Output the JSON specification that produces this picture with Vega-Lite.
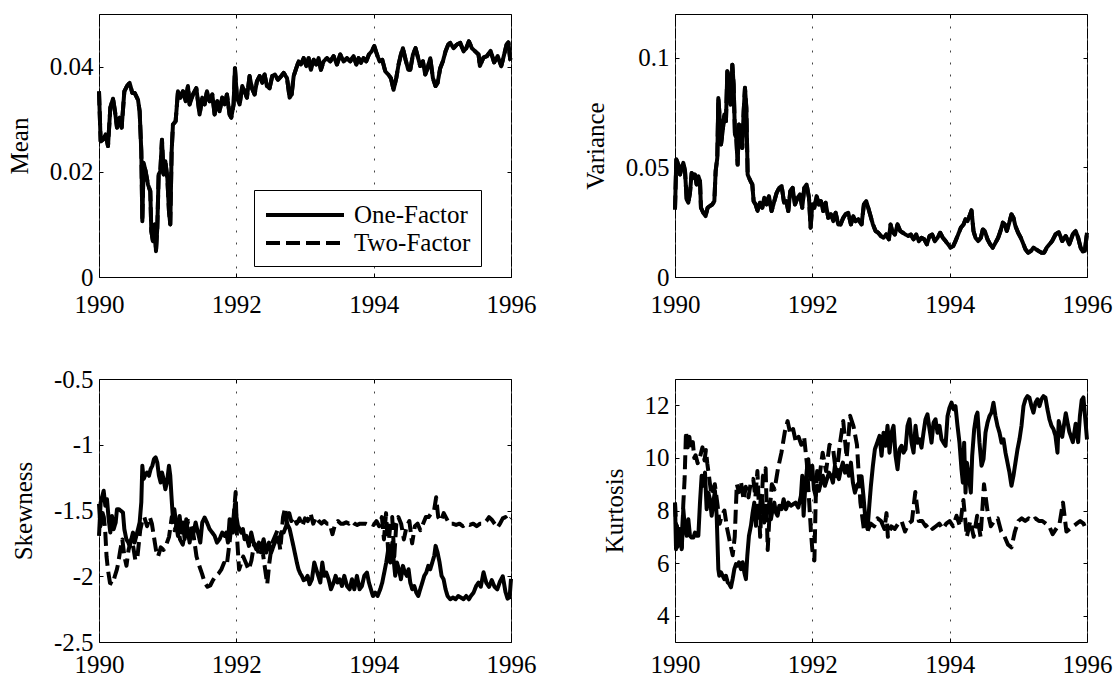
{
"$schema":"https://vega.github.io/schema/vega-lite/v6.json",
"padding":{"left":6,"top":13,"right":0,"bottom":0},
"bounds":"flush",
"columns":2,
"spacing":{"row":102,"column":164},
"resolve":{"scale":{"strokeDash":"independent"}},
"config":{
 "view":{"stroke":"black","strokeWidth":1},
 "font":"Liberation Serif",
 "axis":{"labelFont":"Liberation Serif","labelFontSize":25,"labelColor":"black","titleFont":"Liberation Serif","titleFontSize":25,"titleFontWeight":"normal","titleColor":"black","domain":false,"tickColor":"black","tickSize":-4,"tickWidth":1,"labelFlush":false,"labelOverlap":false,"grid":false}
},
"datasets":{
"mean":[{"t":1990.000,"v":0.0353},{"t":1990.024,"v":0.0258},{"t":1990.058,"v":0.0261},{"t":1990.097,"v":0.0271},{"t":1990.131,"v":0.0249},{"t":1990.165,"v":0.0322},{"t":1990.204,"v":0.0339},{"t":1990.233,"v":0.0315},{"t":1990.262,"v":0.0284},{"t":1990.301,"v":0.0303},{"t":1990.330,"v":0.0284},{"t":1990.369,"v":0.0353},{"t":1990.408,"v":0.0363},{"t":1990.446,"v":0.0369},{"t":1990.485,"v":0.0350},{"t":1990.519,"v":0.0350},{"t":1990.568,"v":0.0337},{"t":1990.592,"v":0.0315},{"t":1990.616,"v":0.0239},{"t":1990.631,"v":0.0106},{"t":1990.650,"v":0.0217},{"t":1990.679,"v":0.0201},{"t":1990.713,"v":0.0176},{"t":1990.747,"v":0.0163},{"t":1990.762,"v":0.0087},{"t":1990.786,"v":0.0068},{"t":1990.810,"v":0.0100},{"t":1990.830,"v":0.0049},{"t":1990.849,"v":0.0094},{"t":1990.869,"v":0.0195},{"t":1990.893,"v":0.0201},{"t":1990.917,"v":0.0261},{"t":1990.941,"v":0.0195},{"t":1990.966,"v":0.0220},{"t":1990.995,"v":0.0189},{"t":1991.019,"v":0.0125},{"t":1991.038,"v":0.0100},{"t":1991.058,"v":0.0239},{"t":1991.077,"v":0.0290},{"t":1991.116,"v":0.0296},{"t":1991.150,"v":0.0353},{"t":1991.184,"v":0.0341},{"t":1991.223,"v":0.0353},{"t":1991.262,"v":0.0334},{"t":1991.295,"v":0.0363},{"t":1991.320,"v":0.0328},{"t":1991.368,"v":0.0347},{"t":1991.417,"v":0.0359},{"t":1991.465,"v":0.0309},{"t":1991.504,"v":0.0341},{"t":1991.538,"v":0.0328},{"t":1991.572,"v":0.0353},{"t":1991.611,"v":0.0334},{"t":1991.650,"v":0.0347},{"t":1991.684,"v":0.0309},{"t":1991.722,"v":0.0334},{"t":1991.756,"v":0.0315},{"t":1991.795,"v":0.0341},{"t":1991.829,"v":0.0328},{"t":1991.863,"v":0.0347},{"t":1991.902,"v":0.0309},{"t":1991.926,"v":0.0303},{"t":1991.960,"v":0.0328},{"t":1991.980,"v":0.0397},{"t":1992.009,"v":0.0341},{"t":1992.048,"v":0.0328},{"t":1992.086,"v":0.0363},{"t":1992.120,"v":0.0353},{"t":1992.154,"v":0.0341},{"t":1992.193,"v":0.0382},{"t":1992.227,"v":0.0359},{"t":1992.266,"v":0.0347},{"t":1992.300,"v":0.0372},{"t":1992.339,"v":0.0382},{"t":1992.377,"v":0.0369},{"t":1992.411,"v":0.0385},{"t":1992.445,"v":0.0363},{"t":1992.484,"v":0.0359},{"t":1992.523,"v":0.0382},{"t":1992.562,"v":0.0385},{"t":1992.606,"v":0.0375},{"t":1992.654,"v":0.0382},{"t":1992.689,"v":0.0388},{"t":1992.738,"v":0.0378},{"t":1992.776,"v":0.0341},{"t":1992.805,"v":0.0347},{"t":1992.835,"v":0.0382},{"t":1992.873,"v":0.0397},{"t":1992.907,"v":0.0410},{"t":1992.941,"v":0.0404},{"t":1992.980,"v":0.0416},{"t":1993.019,"v":0.0401},{"t":1993.053,"v":0.0416},{"t":1993.087,"v":0.0394},{"t":1993.126,"v":0.0413},{"t":1993.164,"v":0.0404},{"t":1993.198,"v":0.0416},{"t":1993.232,"v":0.0394},{"t":1993.271,"v":0.0410},{"t":1993.320,"v":0.0416},{"t":1993.368,"v":0.0410},{"t":1993.417,"v":0.0420},{"t":1993.465,"v":0.0404},{"t":1993.514,"v":0.0423},{"t":1993.562,"v":0.0410},{"t":1993.611,"v":0.0416},{"t":1993.659,"v":0.0410},{"t":1993.708,"v":0.0420},{"t":1993.747,"v":0.0404},{"t":1993.781,"v":0.0416},{"t":1993.815,"v":0.0407},{"t":1993.853,"v":0.0416},{"t":1993.892,"v":0.0410},{"t":1993.931,"v":0.0423},{"t":1993.970,"v":0.0429},{"t":1994.009,"v":0.0439},{"t":1994.048,"v":0.0423},{"t":1994.086,"v":0.0410},{"t":1994.125,"v":0.0413},{"t":1994.169,"v":0.0391},{"t":1994.213,"v":0.0385},{"t":1994.251,"v":0.0378},{"t":1994.290,"v":0.0356},{"t":1994.329,"v":0.0378},{"t":1994.363,"v":0.0404},{"t":1994.397,"v":0.0423},{"t":1994.426,"v":0.0435},{"t":1994.465,"v":0.0413},{"t":1994.504,"v":0.0394},{"t":1994.533,"v":0.0394},{"t":1994.572,"v":0.0423},{"t":1994.610,"v":0.0435},{"t":1994.640,"v":0.0420},{"t":1994.678,"v":0.0401},{"t":1994.717,"v":0.0410},{"t":1994.751,"v":0.0385},{"t":1994.785,"v":0.0397},{"t":1994.824,"v":0.0416},{"t":1994.863,"v":0.0378},{"t":1994.901,"v":0.0363},{"t":1994.931,"v":0.0369},{"t":1994.969,"v":0.0397},{"t":1995.008,"v":0.0410},{"t":1995.047,"v":0.0429},{"t":1995.086,"v":0.0442},{"t":1995.115,"v":0.0445},{"t":1995.163,"v":0.0435},{"t":1995.212,"v":0.0442},{"t":1995.261,"v":0.0445},{"t":1995.309,"v":0.0429},{"t":1995.348,"v":0.0435},{"t":1995.387,"v":0.0448},{"t":1995.430,"v":0.0435},{"t":1995.479,"v":0.0429},{"t":1995.527,"v":0.0423},{"t":1995.547,"v":0.0401},{"t":1995.598,"v":0.0417},{"t":1995.650,"v":0.0420},{"t":1995.703,"v":0.0430},{"t":1995.754,"v":0.0408},{"t":1995.806,"v":0.0420},{"t":1995.858,"v":0.0401},{"t":1995.895,"v":0.0420},{"t":1995.936,"v":0.0442},{"t":1995.962,"v":0.0446},{"t":1995.988,"v":0.0414},{"t":1996.000,"v":0.0412}],
"var":[{"t":1990.000,"v":0.0308},{"t":1990.019,"v":0.0536},{"t":1990.049,"v":0.0513},{"t":1990.073,"v":0.0468},{"t":1990.097,"v":0.0498},{"t":1990.121,"v":0.0521},{"t":1990.146,"v":0.0483},{"t":1990.170,"v":0.0354},{"t":1990.194,"v":0.0339},{"t":1990.218,"v":0.0384},{"t":1990.243,"v":0.0475},{"t":1990.267,"v":0.0453},{"t":1990.291,"v":0.0468},{"t":1990.315,"v":0.0422},{"t":1990.340,"v":0.0460},{"t":1990.364,"v":0.0437},{"t":1990.378,"v":0.0316},{"t":1990.412,"v":0.0293},{"t":1990.446,"v":0.0278},{"t":1990.475,"v":0.0316},{"t":1990.509,"v":0.0324},{"t":1990.543,"v":0.0331},{"t":1990.573,"v":0.0346},{"t":1990.592,"v":0.0483},{"t":1990.616,"v":0.0544},{"t":1990.631,"v":0.0817},{"t":1990.645,"v":0.0756},{"t":1990.670,"v":0.0605},{"t":1990.694,"v":0.0665},{"t":1990.718,"v":0.0741},{"t":1990.742,"v":0.0711},{"t":1990.762,"v":0.0939},{"t":1990.786,"v":0.0908},{"t":1990.810,"v":0.0787},{"t":1990.835,"v":0.0969},{"t":1990.854,"v":0.0878},{"t":1990.873,"v":0.0650},{"t":1990.893,"v":0.0635},{"t":1990.912,"v":0.0513},{"t":1990.932,"v":0.0696},{"t":1990.956,"v":0.0650},{"t":1990.980,"v":0.0589},{"t":1991.000,"v":0.0756},{"t":1991.019,"v":0.0863},{"t":1991.039,"v":0.0772},{"t":1991.058,"v":0.0468},{"t":1991.077,"v":0.0453},{"t":1991.101,"v":0.0437},{"t":1991.126,"v":0.0422},{"t":1991.145,"v":0.0346},{"t":1991.174,"v":0.0331},{"t":1991.203,"v":0.0301},{"t":1991.237,"v":0.0339},{"t":1991.271,"v":0.0316},{"t":1991.300,"v":0.0362},{"t":1991.334,"v":0.0331},{"t":1991.368,"v":0.0369},{"t":1991.407,"v":0.0301},{"t":1991.446,"v":0.0346},{"t":1991.480,"v":0.0384},{"t":1991.519,"v":0.0407},{"t":1991.553,"v":0.0415},{"t":1991.588,"v":0.0339},{"t":1991.621,"v":0.0346},{"t":1991.650,"v":0.0301},{"t":1991.679,"v":0.0392},{"t":1991.713,"v":0.0407},{"t":1991.747,"v":0.0331},{"t":1991.786,"v":0.0362},{"t":1991.820,"v":0.0377},{"t":1991.853,"v":0.0316},{"t":1991.883,"v":0.0407},{"t":1991.917,"v":0.0422},{"t":1991.951,"v":0.0362},{"t":1991.975,"v":0.0225},{"t":1991.999,"v":0.0331},{"t":1992.028,"v":0.0316},{"t":1992.062,"v":0.0369},{"t":1992.096,"v":0.0331},{"t":1992.125,"v":0.0346},{"t":1992.159,"v":0.0301},{"t":1992.193,"v":0.0339},{"t":1992.232,"v":0.0270},{"t":1992.271,"v":0.0286},{"t":1992.305,"v":0.0255},{"t":1992.339,"v":0.0293},{"t":1992.377,"v":0.0240},{"t":1992.411,"v":0.0240},{"t":1992.450,"v":0.0270},{"t":1992.484,"v":0.0286},{"t":1992.523,"v":0.0293},{"t":1992.562,"v":0.0240},{"t":1992.596,"v":0.0278},{"t":1992.630,"v":0.0255},{"t":1992.669,"v":0.0263},{"t":1992.717,"v":0.0240},{"t":1992.751,"v":0.0331},{"t":1992.785,"v":0.0346},{"t":1992.814,"v":0.0316},{"t":1992.848,"v":0.0278},{"t":1992.882,"v":0.0240},{"t":1992.921,"v":0.0210},{"t":1992.959,"v":0.0202},{"t":1992.998,"v":0.0187},{"t":1993.037,"v":0.0179},{"t":1993.076,"v":0.0194},{"t":1993.115,"v":0.0172},{"t":1993.139,"v":0.0240},{"t":1993.163,"v":0.0210},{"t":1993.202,"v":0.0194},{"t":1993.241,"v":0.0240},{"t":1993.280,"v":0.0210},{"t":1993.318,"v":0.0202},{"t":1993.357,"v":0.0194},{"t":1993.396,"v":0.0187},{"t":1993.435,"v":0.0194},{"t":1993.474,"v":0.0172},{"t":1993.513,"v":0.0194},{"t":1993.551,"v":0.0164},{"t":1993.590,"v":0.0179},{"t":1993.629,"v":0.0172},{"t":1993.668,"v":0.0149},{"t":1993.707,"v":0.0187},{"t":1993.745,"v":0.0194},{"t":1993.784,"v":0.0164},{"t":1993.823,"v":0.0179},{"t":1993.862,"v":0.0202},{"t":1993.901,"v":0.0179},{"t":1993.940,"v":0.0164},{"t":1993.978,"v":0.0149},{"t":1994.012,"v":0.0134},{"t":1994.051,"v":0.0141},{"t":1994.085,"v":0.0164},{"t":1994.124,"v":0.0194},{"t":1994.163,"v":0.0225},{"t":1994.202,"v":0.0240},{"t":1994.231,"v":0.0263},{"t":1994.260,"v":0.0255},{"t":1994.289,"v":0.0278},{"t":1994.318,"v":0.0304},{"t":1994.347,"v":0.0210},{"t":1994.376,"v":0.0179},{"t":1994.415,"v":0.0164},{"t":1994.454,"v":0.0179},{"t":1994.483,"v":0.0217},{"t":1994.512,"v":0.0210},{"t":1994.551,"v":0.0172},{"t":1994.590,"v":0.0149},{"t":1994.628,"v":0.0134},{"t":1994.667,"v":0.0156},{"t":1994.706,"v":0.0179},{"t":1994.740,"v":0.0210},{"t":1994.774,"v":0.0248},{"t":1994.803,"v":0.0240},{"t":1994.832,"v":0.0210},{"t":1994.861,"v":0.0240},{"t":1994.900,"v":0.0286},{"t":1994.929,"v":0.0270},{"t":1994.958,"v":0.0232},{"t":1994.997,"v":0.0202},{"t":1995.036,"v":0.0179},{"t":1995.075,"v":0.0149},{"t":1995.104,"v":0.0126},{"t":1995.143,"v":0.0111},{"t":1995.182,"v":0.0118},{"t":1995.220,"v":0.0134},{"t":1995.259,"v":0.0126},{"t":1995.298,"v":0.0118},{"t":1995.337,"v":0.0111},{"t":1995.376,"v":0.0111},{"t":1995.414,"v":0.0134},{"t":1995.453,"v":0.0149},{"t":1995.492,"v":0.0164},{"t":1995.541,"v":0.0194},{"t":1995.589,"v":0.0205},{"t":1995.639,"v":0.0164},{"t":1995.691,"v":0.0187},{"t":1995.742,"v":0.0149},{"t":1995.794,"v":0.0195},{"t":1995.835,"v":0.0210},{"t":1995.871,"v":0.0179},{"t":1995.907,"v":0.0134},{"t":1995.938,"v":0.0116},{"t":1995.969,"v":0.0119},{"t":1996.000,"v":0.0202}],
"sk1":[{"t":1990.000,"v":-1.693},{"t":1990.024,"v":-1.439},{"t":1990.049,"v":-1.388},{"t":1990.068,"v":-1.350},{"t":1990.092,"v":-1.464},{"t":1990.116,"v":-1.414},{"t":1990.141,"v":-1.566},{"t":1990.165,"v":-1.668},{"t":1990.189,"v":-1.541},{"t":1990.213,"v":-1.642},{"t":1990.243,"v":-1.591},{"t":1990.262,"v":-1.490},{"t":1990.291,"v":-1.490},{"t":1990.320,"v":-1.503},{"t":1990.349,"v":-1.515},{"t":1990.369,"v":-1.642},{"t":1990.398,"v":-1.718},{"t":1990.427,"v":-1.744},{"t":1990.446,"v":-1.769},{"t":1990.471,"v":-1.718},{"t":1990.495,"v":-1.668},{"t":1990.519,"v":-1.744},{"t":1990.543,"v":-1.693},{"t":1990.568,"v":-1.642},{"t":1990.592,"v":-1.591},{"t":1990.616,"v":-1.439},{"t":1990.631,"v":-1.160},{"t":1990.650,"v":-1.261},{"t":1990.670,"v":-1.236},{"t":1990.699,"v":-1.211},{"t":1990.728,"v":-1.236},{"t":1990.752,"v":-1.185},{"t":1990.776,"v":-1.160},{"t":1990.801,"v":-1.109},{"t":1990.825,"v":-1.096},{"t":1990.849,"v":-1.135},{"t":1990.873,"v":-1.236},{"t":1990.898,"v":-1.287},{"t":1990.917,"v":-1.211},{"t":1990.941,"v":-1.261},{"t":1990.966,"v":-1.338},{"t":1990.990,"v":-1.287},{"t":1991.019,"v":-1.160},{"t":1991.038,"v":-1.236},{"t":1991.058,"v":-1.414},{"t":1991.077,"v":-1.566},{"t":1991.097,"v":-1.490},{"t":1991.126,"v":-1.617},{"t":1991.150,"v":-1.693},{"t":1991.174,"v":-1.541},{"t":1991.198,"v":-1.668},{"t":1991.223,"v":-1.591},{"t":1991.247,"v":-1.718},{"t":1991.271,"v":-1.566},{"t":1991.295,"v":-1.668},{"t":1991.320,"v":-1.744},{"t":1991.344,"v":-1.642},{"t":1991.368,"v":-1.693},{"t":1991.407,"v":-1.591},{"t":1991.441,"v":-1.668},{"t":1991.475,"v":-1.744},{"t":1991.504,"v":-1.591},{"t":1991.538,"v":-1.553},{"t":1991.572,"v":-1.591},{"t":1991.611,"v":-1.642},{"t":1991.650,"v":-1.668},{"t":1991.684,"v":-1.693},{"t":1991.718,"v":-1.744},{"t":1991.756,"v":-1.718},{"t":1991.795,"v":-1.668},{"t":1991.829,"v":-1.693},{"t":1991.853,"v":-1.668},{"t":1991.878,"v":-1.744},{"t":1991.902,"v":-1.566},{"t":1991.926,"v":-1.591},{"t":1991.951,"v":-1.668},{"t":1991.980,"v":-1.450},{"t":1992.000,"v":-1.541},{"t":1992.023,"v":-1.617},{"t":1992.048,"v":-1.642},{"t":1992.072,"v":-1.668},{"t":1992.096,"v":-1.642},{"t":1992.120,"v":-1.718},{"t":1992.145,"v":-1.693},{"t":1992.183,"v":-1.769},{"t":1992.217,"v":-1.668},{"t":1992.251,"v":-1.744},{"t":1992.290,"v":-1.794},{"t":1992.329,"v":-1.744},{"t":1992.363,"v":-1.794},{"t":1992.397,"v":-1.718},{"t":1992.436,"v":-1.820},{"t":1992.475,"v":-1.744},{"t":1992.508,"v":-1.820},{"t":1992.542,"v":-1.769},{"t":1992.581,"v":-1.718},{"t":1992.620,"v":-1.744},{"t":1992.654,"v":-1.668},{"t":1992.689,"v":-1.668},{"t":1992.738,"v":-1.600},{"t":1992.776,"v":-1.640},{"t":1992.810,"v":-1.720},{"t":1992.835,"v":-1.780},{"t":1992.859,"v":-1.840},{"t":1992.883,"v":-1.900},{"t":1992.907,"v":-1.950},{"t":1992.932,"v":-1.980},{"t":1992.956,"v":-2.000},{"t":1992.980,"v":-2.030},{"t":1993.009,"v":-2.023},{"t":1993.038,"v":-1.997},{"t":1993.067,"v":-2.061},{"t":1993.101,"v":-2.023},{"t":1993.135,"v":-1.896},{"t":1993.164,"v":-1.947},{"t":1993.194,"v":-1.997},{"t":1993.223,"v":-2.048},{"t":1993.252,"v":-1.896},{"t":1993.281,"v":-1.997},{"t":1993.310,"v":-1.972},{"t":1993.344,"v":-2.023},{"t":1993.378,"v":-2.099},{"t":1993.417,"v":-2.048},{"t":1993.446,"v":-1.997},{"t":1993.475,"v":-2.048},{"t":1993.504,"v":-2.023},{"t":1993.538,"v":-2.074},{"t":1993.572,"v":-1.997},{"t":1993.611,"v":-2.074},{"t":1993.650,"v":-2.099},{"t":1993.684,"v":-2.023},{"t":1993.718,"v":-2.099},{"t":1993.756,"v":-1.997},{"t":1993.795,"v":-2.099},{"t":1993.829,"v":-2.074},{"t":1993.863,"v":-1.997},{"t":1993.902,"v":-1.972},{"t":1993.931,"v":-2.048},{"t":1993.960,"v":-2.099},{"t":1993.989,"v":-2.150},{"t":1994.023,"v":-2.124},{"t":1994.057,"v":-2.150},{"t":1994.096,"v":-2.099},{"t":1994.125,"v":-2.048},{"t":1994.154,"v":-1.972},{"t":1994.183,"v":-1.896},{"t":1994.213,"v":-1.794},{"t":1994.242,"v":-1.896},{"t":1994.271,"v":-1.744},{"t":1994.290,"v":-1.871},{"t":1994.314,"v":-1.997},{"t":1994.339,"v":-1.896},{"t":1994.368,"v":-1.947},{"t":1994.397,"v":-2.023},{"t":1994.426,"v":-1.921},{"t":1994.455,"v":-1.972},{"t":1994.484,"v":-1.997},{"t":1994.508,"v":-1.947},{"t":1994.533,"v":-2.048},{"t":1994.562,"v":-2.099},{"t":1994.591,"v":-2.074},{"t":1994.620,"v":-2.124},{"t":1994.649,"v":-2.150},{"t":1994.678,"v":-2.099},{"t":1994.708,"v":-2.048},{"t":1994.737,"v":-1.997},{"t":1994.766,"v":-1.972},{"t":1994.795,"v":-1.921},{"t":1994.824,"v":-1.947},{"t":1994.853,"v":-1.896},{"t":1994.882,"v":-1.845},{"t":1994.902,"v":-1.769},{"t":1994.931,"v":-1.820},{"t":1994.960,"v":-1.896},{"t":1994.989,"v":-1.997},{"t":1995.018,"v":-2.023},{"t":1995.047,"v":-2.099},{"t":1995.076,"v":-2.150},{"t":1995.115,"v":-2.175},{"t":1995.154,"v":-2.162},{"t":1995.193,"v":-2.175},{"t":1995.231,"v":-2.150},{"t":1995.270,"v":-2.162},{"t":1995.309,"v":-2.175},{"t":1995.348,"v":-2.150},{"t":1995.387,"v":-2.175},{"t":1995.416,"v":-2.150},{"t":1995.455,"v":-2.124},{"t":1995.493,"v":-2.074},{"t":1995.527,"v":-2.048},{"t":1995.560,"v":-2.080},{"t":1995.600,"v":-1.970},{"t":1995.640,"v":-2.050},{"t":1995.680,"v":-2.080},{"t":1995.720,"v":-2.030},{"t":1995.760,"v":-2.080},{"t":1995.800,"v":-2.100},{"t":1995.840,"v":-2.040},{"t":1995.880,"v":-2.000},{"t":1995.920,"v":-2.120},{"t":1995.950,"v":-2.170},{"t":1995.980,"v":-2.160},{"t":1996.000,"v":-2.020}],
"sk2":[{"t":1990.00,"v":-1.45},{"t":1990.02,"v":-1.62},{"t":1990.04,"v":-1.5},{"t":1990.07,"v":-1.55},{"t":1990.09,"v":-1.65},{"t":1990.11,"v":-1.85},{"t":1990.13,"v":-1.95},{"t":1990.16,"v":-2.05},{"t":1990.2,"v":-2.06},{"t":1990.23,"v":-2.0},{"t":1990.26,"v":-1.95},{"t":1990.28,"v":-1.9},{"t":1990.31,"v":-1.8},{"t":1990.34,"v":-1.72},{"t":1990.37,"v":-1.85},{"t":1990.4,"v":-1.92},{"t":1990.43,"v":-1.8},{"t":1990.47,"v":-1.72},{"t":1990.5,"v":-1.78},{"t":1990.53,"v":-1.88},{"t":1990.56,"v":-1.85},{"t":1990.6,"v":-1.65},{"t":1990.63,"v":-1.58},{"t":1990.66,"v":-1.55},{"t":1990.7,"v":-1.62},{"t":1990.74,"v":-1.55},{"t":1990.77,"v":-1.6},{"t":1990.8,"v":-1.7},{"t":1990.83,"v":-1.8},{"t":1990.86,"v":-1.85},{"t":1990.9,"v":-1.78},{"t":1990.94,"v":-1.8},{"t":1990.98,"v":-1.76},{"t":1991.02,"v":-1.7},{"t":1991.06,"v":-1.55},{"t":1991.1,"v":-1.65},{"t":1991.14,"v":-1.6},{"t":1991.18,"v":-1.72},{"t":1991.22,"v":-1.76},{"t":1991.26,"v":-1.65},{"t":1991.3,"v":-1.58},{"t":1991.34,"v":-1.62},{"t":1991.38,"v":-1.7},{"t":1991.42,"v":-1.85},{"t":1991.46,"v":-1.92},{"t":1991.5,"v":-1.98},{"t":1991.54,"v":-2.05},{"t":1991.58,"v":-2.08},{"t":1991.62,"v":-2.07},{"t":1991.66,"v":-2.03},{"t":1991.7,"v":-2.0},{"t":1991.74,"v":-1.98},{"t":1991.78,"v":-1.95},{"t":1991.82,"v":-1.9},{"t":1991.86,"v":-1.92},{"t":1991.9,"v":-1.75},{"t":1991.93,"v":-1.6},{"t":1991.96,"v":-1.55},{"t":1991.99,"v":-1.36},{"t":1992.01,"v":-1.7},{"t":1992.04,"v":-1.95},{"t":1992.07,"v":-1.9},{"t":1992.1,"v":-1.85},{"t":1992.14,"v":-1.9},{"t":1992.18,"v":-1.95},{"t":1992.22,"v":-1.88},{"t":1992.26,"v":-1.75},{"t":1992.3,"v":-1.78},{"t":1992.34,"v":-1.85},{"t":1992.38,"v":-1.8},{"t":1992.42,"v":-1.95},{"t":1992.45,"v":-2.06},{"t":1992.48,"v":-1.9},{"t":1992.52,"v":-1.75},{"t":1992.56,"v":-1.7},{"t":1992.6,"v":-1.65},{"t":1992.64,"v":-1.8},{"t":1992.68,"v":-1.55},{"t":1992.71,"v":-1.48},{"t":1992.74,"v":-1.6},{"t":1992.77,"v":-1.52},{"t":1992.8,"v":-1.58},{"t":1992.84,"v":-1.55},{"t":1992.88,"v":-1.6},{"t":1992.92,"v":-1.56},{"t":1992.96,"v":-1.62},{"t":1993.0,"v":-1.56},{"t":1993.04,"v":-1.58},{"t":1993.08,"v":-1.52},{"t":1993.12,"v":-1.6},{"t":1993.16,"v":-1.55},{"t":1993.2,"v":-1.58},{"t":1993.24,"v":-1.6},{"t":1993.28,"v":-1.58},{"t":1993.32,"v":-1.6},{"t":1993.36,"v":-1.6},{"t":1993.4,"v":-1.68},{"t":1993.44,"v":-1.6},{"t":1993.48,"v":-1.58},{"t":1993.52,"v":-1.6},{"t":1993.56,"v":-1.6},{"t":1993.6,"v":-1.59},{"t":1993.64,"v":-1.6},{"t":1993.68,"v":-1.58},{"t":1993.72,"v":-1.6},{"t":1993.76,"v":-1.61},{"t":1993.8,"v":-1.6},{"t":1993.84,"v":-1.6},{"t":1993.88,"v":-1.6},{"t":1993.92,"v":-1.61},{"t":1993.96,"v":-1.6},{"t":1994.0,"v":-1.61},{"t":1994.04,"v":-1.58},{"t":1994.08,"v":-1.62},{"t":1994.12,"v":-1.55},{"t":1994.15,"v":-1.72},{"t":1994.18,"v":-1.52},{"t":1994.21,"v":-1.8},{"t":1994.24,"v":-1.62},{"t":1994.27,"v":-1.55},{"t":1994.3,"v":-1.85},{"t":1994.33,"v":-1.6},{"t":1994.36,"v":-1.55},{"t":1994.4,"v":-1.6},{"t":1994.44,"v":-1.72},{"t":1994.48,"v":-1.62},{"t":1994.52,"v":-1.58},{"t":1994.56,"v":-1.75},{"t":1994.6,"v":-1.62},{"t":1994.64,"v":-1.6},{"t":1994.68,"v":-1.65},{"t":1994.72,"v":-1.6},{"t":1994.76,"v":-1.55},{"t":1994.8,"v":-1.55},{"t":1994.84,"v":-1.52},{"t":1994.88,"v":-1.5},{"t":1994.91,"v":-1.4},{"t":1994.94,"v":-1.55},{"t":1994.98,"v":-1.58},{"t":1995.02,"v":-1.52},{"t":1995.06,"v":-1.56},{"t":1995.1,"v":-1.6},{"t":1995.15,"v":-1.6},{"t":1995.2,"v":-1.61},{"t":1995.25,"v":-1.6},{"t":1995.3,"v":-1.62},{"t":1995.35,"v":-1.6},{"t":1995.4,"v":-1.61},{"t":1995.45,"v":-1.6},{"t":1995.5,"v":-1.62},{"t":1995.55,"v":-1.6},{"t":1995.6,"v":-1.6},{"t":1995.64,"v":-1.58},{"t":1995.68,"v":-1.55},{"t":1995.72,"v":-1.57},{"t":1995.76,"v":-1.6},{"t":1995.8,"v":-1.63},{"t":1995.84,"v":-1.6},{"t":1995.88,"v":-1.56},{"t":1995.92,"v":-1.55},{"t":1995.96,"v":-1.58},{"t":1996.0,"v":-1.56}],
"ku1":[{"t":1990.000,"v":8.30},{"t":1990.015,"v":6.53},{"t":1990.029,"v":7.42},{"t":1990.049,"v":6.66},{"t":1990.073,"v":7.29},{"t":1990.097,"v":6.53},{"t":1990.121,"v":8.05},{"t":1990.146,"v":7.29},{"t":1990.170,"v":7.04},{"t":1990.194,"v":7.67},{"t":1990.218,"v":7.04},{"t":1990.243,"v":6.97},{"t":1990.267,"v":6.97},{"t":1990.291,"v":7.16},{"t":1990.315,"v":7.04},{"t":1990.340,"v":7.04},{"t":1990.364,"v":8.30},{"t":1990.388,"v":9.32},{"t":1990.412,"v":8.94},{"t":1990.437,"v":9.44},{"t":1990.461,"v":8.05},{"t":1990.485,"v":8.68},{"t":1990.509,"v":8.43},{"t":1990.534,"v":7.80},{"t":1990.558,"v":8.30},{"t":1990.582,"v":8.75},{"t":1990.607,"v":7.80},{"t":1990.631,"v":5.77},{"t":1990.645,"v":5.52},{"t":1990.670,"v":5.65},{"t":1990.694,"v":5.52},{"t":1990.718,"v":5.39},{"t":1990.742,"v":5.52},{"t":1990.767,"v":5.27},{"t":1990.791,"v":5.20},{"t":1990.815,"v":5.08},{"t":1990.839,"v":5.39},{"t":1990.864,"v":5.77},{"t":1990.888,"v":5.96},{"t":1990.912,"v":5.90},{"t":1990.932,"v":6.03},{"t":1990.961,"v":5.77},{"t":1990.985,"v":6.03},{"t":1991.009,"v":5.65},{"t":1991.033,"v":5.39},{"t":1991.053,"v":6.28},{"t":1991.077,"v":7.04},{"t":1991.106,"v":7.42},{"t":1991.131,"v":7.92},{"t":1991.155,"v":8.30},{"t":1991.179,"v":7.42},{"t":1991.203,"v":8.18},{"t":1991.228,"v":7.80},{"t":1991.252,"v":8.56},{"t":1991.276,"v":8.30},{"t":1991.300,"v":7.54},{"t":1991.325,"v":8.18},{"t":1991.349,"v":7.92},{"t":1991.373,"v":8.30},{"t":1991.397,"v":7.67},{"t":1991.422,"v":8.05},{"t":1991.446,"v":8.30},{"t":1991.470,"v":7.92},{"t":1991.494,"v":7.80},{"t":1991.519,"v":8.18},{"t":1991.553,"v":8.05},{"t":1991.582,"v":8.43},{"t":1991.616,"v":8.05},{"t":1991.650,"v":8.30},{"t":1991.689,"v":8.18},{"t":1991.722,"v":8.24},{"t":1991.756,"v":8.30},{"t":1991.795,"v":8.11},{"t":1991.834,"v":8.56},{"t":1991.853,"v":9.32},{"t":1991.873,"v":7.80},{"t":1991.892,"v":8.68},{"t":1991.921,"v":9.57},{"t":1991.941,"v":9.95},{"t":1991.960,"v":9.32},{"t":1991.980,"v":9.19},{"t":1991.999,"v":9.70},{"t":1992.023,"v":8.81},{"t":1992.048,"v":8.56},{"t":1992.072,"v":8.94},{"t":1992.096,"v":8.75},{"t":1992.125,"v":9.06},{"t":1992.154,"v":9.32},{"t":1992.183,"v":8.94},{"t":1992.213,"v":9.19},{"t":1992.242,"v":9.44},{"t":1992.271,"v":9.32},{"t":1992.300,"v":9.06},{"t":1992.329,"v":9.70},{"t":1992.358,"v":9.44},{"t":1992.387,"v":9.19},{"t":1992.416,"v":9.57},{"t":1992.445,"v":9.82},{"t":1992.475,"v":9.44},{"t":1992.504,"v":9.70},{"t":1992.533,"v":9.32},{"t":1992.562,"v":9.82},{"t":1992.591,"v":9.06},{"t":1992.620,"v":8.68},{"t":1992.649,"v":8.94},{"t":1992.678,"v":9.06},{"t":1992.717,"v":9.30},{"t":1992.746,"v":8.50},{"t":1992.775,"v":7.60},{"t":1992.804,"v":7.30},{"t":1992.830,"v":8.20},{"t":1992.853,"v":8.94},{"t":1992.882,"v":9.70},{"t":1992.911,"v":10.33},{"t":1992.945,"v":10.58},{"t":1992.979,"v":10.84},{"t":1993.008,"v":10.08},{"t":1993.037,"v":10.96},{"t":1993.066,"v":10.46},{"t":1993.095,"v":11.22},{"t":1993.124,"v":10.20},{"t":1993.153,"v":10.96},{"t":1993.183,"v":11.22},{"t":1993.212,"v":10.08},{"t":1993.241,"v":9.57},{"t":1993.270,"v":10.33},{"t":1993.299,"v":10.46},{"t":1993.328,"v":10.20},{"t":1993.357,"v":10.33},{"t":1993.386,"v":11.22},{"t":1993.415,"v":11.47},{"t":1993.445,"v":10.58},{"t":1993.474,"v":10.20},{"t":1993.503,"v":11.22},{"t":1993.532,"v":10.58},{"t":1993.561,"v":10.71},{"t":1993.590,"v":10.39},{"t":1993.619,"v":10.96},{"t":1993.648,"v":11.47},{"t":1993.677,"v":11.66},{"t":1993.707,"v":11.09},{"t":1993.736,"v":10.58},{"t":1993.765,"v":11.34},{"t":1993.794,"v":11.47},{"t":1993.823,"v":10.96},{"t":1993.852,"v":11.22},{"t":1993.881,"v":10.71},{"t":1993.910,"v":10.58},{"t":1993.940,"v":10.46},{"t":1993.969,"v":11.59},{"t":1993.998,"v":11.91},{"t":1994.027,"v":12.10},{"t":1994.056,"v":11.85},{"t":1994.085,"v":11.97},{"t":1994.114,"v":11.22},{"t":1994.143,"v":10.58},{"t":1994.172,"v":9.57},{"t":1994.192,"v":9.06},{"t":1994.211,"v":10.58},{"t":1994.231,"v":8.68},{"t":1994.250,"v":9.82},{"t":1994.279,"v":9.32},{"t":1994.308,"v":8.68},{"t":1994.328,"v":10.08},{"t":1994.357,"v":11.09},{"t":1994.386,"v":11.59},{"t":1994.405,"v":11.72},{"t":1994.434,"v":10.58},{"t":1994.464,"v":9.70},{"t":1994.493,"v":9.95},{"t":1994.522,"v":10.96},{"t":1994.551,"v":11.34},{"t":1994.580,"v":11.59},{"t":1994.609,"v":11.72},{"t":1994.638,"v":12.10},{"t":1994.667,"v":11.59},{"t":1994.696,"v":11.22},{"t":1994.726,"v":10.96},{"t":1994.755,"v":10.58},{"t":1994.784,"v":10.71},{"t":1994.813,"v":10.20},{"t":1994.842,"v":9.82},{"t":1994.871,"v":9.44},{"t":1994.900,"v":8.94},{"t":1994.929,"v":9.32},{"t":1994.958,"v":9.82},{"t":1994.988,"v":10.33},{"t":1995.017,"v":10.71},{"t":1995.046,"v":11.22},{"t":1995.075,"v":11.97},{"t":1995.104,"v":12.23},{"t":1995.133,"v":12.35},{"t":1995.162,"v":12.29},{"t":1995.191,"v":11.97},{"t":1995.220,"v":11.72},{"t":1995.250,"v":12.10},{"t":1995.279,"v":12.23},{"t":1995.308,"v":11.97},{"t":1995.337,"v":12.23},{"t":1995.366,"v":12.35},{"t":1995.395,"v":12.29},{"t":1995.424,"v":11.85},{"t":1995.453,"v":11.47},{"t":1995.483,"v":11.22},{"t":1995.512,"v":11.09},{"t":1995.541,"v":10.84},{"t":1995.570,"v":10.20},{"t":1995.588,"v":11.40},{"t":1995.639,"v":10.80},{"t":1995.691,"v":11.70},{"t":1995.742,"v":11.00},{"t":1995.794,"v":10.60},{"t":1995.835,"v":11.30},{"t":1995.871,"v":10.60},{"t":1995.897,"v":11.60},{"t":1995.923,"v":12.20},{"t":1995.948,"v":12.30},{"t":1995.974,"v":11.50},{"t":1996.000,"v":10.70}],
"ku2":[{"t":1990.00,"v":8.3},{"t":1990.03,"v":6.6},{"t":1990.06,"v":7.3},{"t":1990.1,"v":6.6},{"t":1990.12,"v":8.2},{"t":1990.14,"v":9.2},{"t":1990.16,"v":11.0},{"t":1990.185,"v":10.4},{"t":1990.21,"v":10.8},{"t":1990.23,"v":10.3},{"t":1990.26,"v":10.6},{"t":1990.28,"v":10.0},{"t":1990.3,"v":10.1},{"t":1990.33,"v":9.8},{"t":1990.36,"v":10.0},{"t":1990.4,"v":10.4},{"t":1990.43,"v":9.9},{"t":1990.45,"v":10.3},{"t":1990.47,"v":9.8},{"t":1990.5,"v":9.2},{"t":1990.53,"v":8.6},{"t":1990.58,"v":9.0},{"t":1990.62,"v":8.2},{"t":1990.65,"v":7.5},{"t":1990.68,"v":7.8},{"t":1990.72,"v":8.0},{"t":1990.76,"v":7.3},{"t":1990.8,"v":6.8},{"t":1990.84,"v":6.3},{"t":1990.87,"v":7.0},{"t":1990.9,"v":9.0},{"t":1990.93,"v":8.7},{"t":1990.96,"v":9.1},{"t":1991.0,"v":8.4},{"t":1991.03,"v":8.9},{"t":1991.07,"v":8.5},{"t":1991.1,"v":9.0},{"t":1991.14,"v":9.2},{"t":1991.17,"v":8.5},{"t":1991.2,"v":9.5},{"t":1991.24,"v":7.0},{"t":1991.28,"v":9.3},{"t":1991.32,"v":9.6},{"t":1991.35,"v":6.5},{"t":1991.38,"v":8.0},{"t":1991.41,"v":9.0},{"t":1991.45,"v":8.8},{"t":1991.5,"v":9.6},{"t":1991.55,"v":10.2},{"t":1991.6,"v":11.0},{"t":1991.64,"v":11.4},{"t":1991.68,"v":10.9},{"t":1991.72,"v":11.1},{"t":1991.76,"v":10.6},{"t":1991.8,"v":10.8},{"t":1991.84,"v":10.5},{"t":1991.88,"v":10.8},{"t":1991.92,"v":9.8},{"t":1991.95,"v":8.5},{"t":1991.98,"v":7.2},{"t":1992.0,"v":6.5},{"t":1992.03,"v":6.1},{"t":1992.05,"v":8.5},{"t":1992.07,"v":9.5},{"t":1992.1,"v":9.2},{"t":1992.15,"v":10.2},{"t":1992.2,"v":9.5},{"t":1992.25,"v":10.5},{"t":1992.3,"v":10.4},{"t":1992.35,"v":9.3},{"t":1992.4,"v":10.5},{"t":1992.45,"v":11.4},{"t":1992.5,"v":10.0},{"t":1992.55,"v":11.6},{"t":1992.6,"v":11.2},{"t":1992.65,"v":10.5},{"t":1992.7,"v":8.3},{"t":1992.75,"v":7.3},{"t":1992.8,"v":7.2},{"t":1992.85,"v":7.5},{"t":1992.9,"v":7.4},{"t":1992.95,"v":7.7},{"t":1993.0,"v":7.6},{"t":1993.05,"v":7.3},{"t":1993.08,"v":7.9},{"t":1993.1,"v":7.0},{"t":1993.15,"v":7.4},{"t":1993.2,"v":7.3},{"t":1993.25,"v":7.5},{"t":1993.3,"v":7.6},{"t":1993.35,"v":7.2},{"t":1993.4,"v":7.5},{"t":1993.45,"v":7.6},{"t":1993.5,"v":8.7},{"t":1993.55,"v":7.6},{"t":1993.6,"v":7.6},{"t":1993.65,"v":7.4},{"t":1993.7,"v":7.5},{"t":1993.75,"v":7.3},{"t":1993.8,"v":7.4},{"t":1993.85,"v":7.5},{"t":1993.9,"v":7.3},{"t":1993.95,"v":7.5},{"t":1994.0,"v":7.6},{"t":1994.05,"v":7.4},{"t":1994.1,"v":7.8},{"t":1994.15,"v":7.4},{"t":1994.2,"v":8.4},{"t":1994.25,"v":7.0},{"t":1994.3,"v":7.6},{"t":1994.35,"v":7.0},{"t":1994.4,"v":7.8},{"t":1994.45,"v":7.0},{"t":1994.5,"v":9.0},{"t":1994.55,"v":8.0},{"t":1994.6,"v":7.4},{"t":1994.65,"v":7.6},{"t":1994.7,"v":7.7},{"t":1994.75,"v":7.2},{"t":1994.8,"v":7.0},{"t":1994.85,"v":6.7},{"t":1994.9,"v":6.6},{"t":1994.95,"v":7.2},{"t":1995.0,"v":7.6},{"t":1995.05,"v":7.7},{"t":1995.1,"v":7.6},{"t":1995.15,"v":7.7},{"t":1995.2,"v":7.6},{"t":1995.25,"v":7.7},{"t":1995.3,"v":7.6},{"t":1995.35,"v":7.6},{"t":1995.4,"v":7.5},{"t":1995.45,"v":7.4},{"t":1995.5,"v":7.1},{"t":1995.55,"v":7.3},{"t":1995.6,"v":7.5},{"t":1995.65,"v":8.3},{"t":1995.7,"v":7.2},{"t":1995.75,"v":7.3},{"t":1995.8,"v":7.4},{"t":1995.85,"v":7.5},{"t":1995.9,"v":7.6},{"t":1995.95,"v":7.5},{"t":1996.0,"v":7.2}]
},
"concat":[
{"width":412,"height":263,
 "resolve":{"axis":{"x":"independent","y":"independent"}},
 "layer":[
  {"data":{"name":"mean"},"mark":{"type":"line","color":"black","strokeWidth":4,"strokeJoin":"round"},
   "encoding":{
    "x":{"field":"t","type":"quantitative","scale":{"domain":[1990,1996],"nice":false,"zero":false},"axis":{"values":[1990,1992,1994,1996],"format":"d","title":null,"grid":true,"gridDash":[2,10],"gridColor":"#444","labelPadding":19}},
    "y":{"field":"v","type":"quantitative","scale":{"domain":[0,0.05],"nice":false,"zero":false},"axis":{"values":[0,0.02,0.04],"labelExpr":"'' + datum.value","title":"Mean","labelPadding":10,"titlePadding":17}},
    "strokeDash":{"datum":"One-Factor","scale":{"domain":["One-Factor","Two-Factor"],"range":[[1,0],[14,6]]},
      "legend":{"title":null,"orient":"none","legendX":155,"legendY":176,"symbolType":"M-3,0L3,0","symbolSize":676,"symbolOffset":26,"labelOffset":34,"symbolStrokeWidth":4,"symbolStrokeColor":"black","symbolFillColor":"transparent","labelFont":"Liberation Serif","labelFontSize":25,"labelColor":"black","strokeColor":"black","fillColor":"white","padding":10,"rowPadding":0}}
   }},
  {"data":{"name":"mean"},"mark":{"type":"line","color":"black","strokeWidth":4,"strokeJoin":"round"},
   "encoding":{
    "x":{"field":"t","type":"quantitative","axis":{"orient":"top","values":[1990,1992,1994,1996],"labels":false,"title":null}},
    "y":{"field":"v","type":"quantitative","axis":{"orient":"right","values":[0,0.02,0.04],"labels":false,"title":null}},
    "strokeDash":{"datum":"Two-Factor"}
   }}
 ]},
{"width":412,"height":263,
 "resolve":{"axis":{"x":"independent","y":"independent"}},
 "layer":[
  {"data":{"name":"var"},"mark":{"type":"line","color":"black","strokeWidth":4,"strokeJoin":"round"},
   "encoding":{
    "x":{"field":"t","type":"quantitative","scale":{"domain":[1990,1996],"nice":false,"zero":false},"axis":{"values":[1990,1992,1994,1996],"format":"d","title":null,"grid":true,"gridDash":[2,10],"gridColor":"#444","labelPadding":19}},
    "y":{"field":"v","type":"quantitative","scale":{"domain":[0,0.12],"nice":false,"zero":false},"axis":{"values":[0,0.05,0.1],"labelExpr":"'' + datum.value","title":"Variance","labelPadding":10,"titlePadding":17}},
    "strokeDash":{"datum":"One-Factor","scale":{"domain":["One-Factor","Two-Factor"],"range":[[1,0],[14,6]]},"legend":null}
   }},
  {"data":{"name":"var"},"mark":{"type":"line","color":"black","strokeWidth":4,"strokeJoin":"round"},
   "encoding":{
    "x":{"field":"t","type":"quantitative","axis":{"orient":"top","values":[1990,1992,1994,1996],"labels":false,"title":null}},
    "y":{"field":"v","type":"quantitative","axis":{"orient":"right","values":[0,0.05,0.1],"labels":false,"title":null}},
    "strokeDash":{"datum":"Two-Factor","legend":null}
   }}
 ]},
{"width":412,"height":263,
 "resolve":{"axis":{"x":"independent","y":"independent"}},
 "layer":[
  {"data":{"name":"sk1"},"mark":{"type":"line","color":"black","strokeWidth":4,"strokeJoin":"round"},
   "encoding":{
    "x":{"field":"t","type":"quantitative","scale":{"domain":[1990,1996],"nice":false,"zero":false},"axis":{"values":[1990,1992,1994,1996],"format":"d","title":null,"grid":true,"gridDash":[2,10],"gridColor":"#444","labelPadding":14}},
    "y":{"field":"v","type":"quantitative","scale":{"domain":[-2.5,-0.5],"nice":false,"zero":false},"axis":{"values":[-2.5,-2,-1.5,-1,-0.5],"labelExpr":"'' + datum.value","title":"Skewness","labelPadding":10,"titlePadding":17}},
    "strokeDash":{"datum":"One-Factor","scale":{"domain":["One-Factor","Two-Factor"],"range":[[1,0],[14,6]]},"legend":null}
   }},
  {"data":{"name":"sk2"},"mark":{"type":"line","color":"black","strokeWidth":4,"strokeJoin":"round"},
   "encoding":{
    "x":{"field":"t","type":"quantitative","axis":{"orient":"top","values":[1990,1992,1994,1996],"labels":false,"title":null}},
    "y":{"field":"v","type":"quantitative","axis":{"orient":"right","values":[-2.5,-2,-1.5,-1,-0.5],"labels":false,"title":null}},
    "strokeDash":{"datum":"Two-Factor","legend":null}
   }}
 ]},
{"width":412,"height":263,
 "resolve":{"axis":{"x":"independent","y":"independent"}},
 "layer":[
  {"data":{"name":"ku1"},"mark":{"type":"line","color":"black","strokeWidth":4,"strokeJoin":"round"},
   "encoding":{
    "x":{"field":"t","type":"quantitative","scale":{"domain":[1990,1996],"nice":false,"zero":false},"axis":{"values":[1990,1992,1994,1996],"format":"d","title":null,"grid":true,"gridDash":[2,10],"gridColor":"#444","labelPadding":14}},
    "y":{"field":"v","type":"quantitative","scale":{"domain":[3,13],"nice":false,"zero":false},"axis":{"values":[4,6,8,10,12],"labelExpr":"'' + datum.value","title":"Kurtosis","labelPadding":10,"titlePadding":17}},
    "strokeDash":{"datum":"One-Factor","scale":{"domain":["One-Factor","Two-Factor"],"range":[[1,0],[14,6]]},"legend":null}
   }},
  {"data":{"name":"ku2"},"mark":{"type":"line","color":"black","strokeWidth":4,"strokeJoin":"round"},
   "encoding":{
    "x":{"field":"t","type":"quantitative","axis":{"orient":"top","values":[1990,1992,1994,1996],"labels":false,"title":null}},
    "y":{"field":"v","type":"quantitative","axis":{"orient":"right","values":[4,6,8,10,12],"labels":false,"title":null}},
    "strokeDash":{"datum":"Two-Factor","legend":null}
   }}
 ]}
]
}
